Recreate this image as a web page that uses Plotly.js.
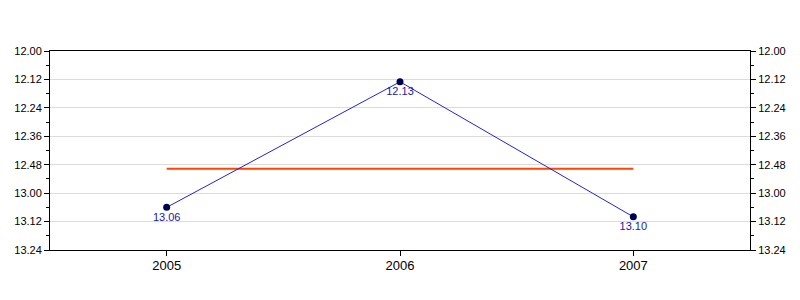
<!DOCTYPE html>
<html>
<head>
<meta charset="utf-8">
<script src="https://cdn.plot.ly/plotly-3.0.1.min.js"></script>
<style>html,body{margin:0;padding:0;background:#fff;}#chart{width:800px;height:300px;}</style>
</head>
<body>
<div id="chart"></div>
<script>
// Years
var years = ['2005', '2006', '2007'];
// Times in seconds (min.sec labels)
var timeSeconds = [786, 733, 790];
var timeLabels = ['13.06', '12.13', '13.10'];
// Average line value (seconds)
var avgSeconds = [769.7, 769.7, 769.7];
// Y tick values (seconds) and labels
var yTickVals = [720, 732, 744, 756, 768, 780, 792, 804];
var yTickText = ['12.00', '12.12', '12.24', '12.36', '12.48', '13.00', '13.12', '13.24'];

var font = {family: 'Liberation Sans, Arial, sans-serif', size: 11, color: '#000'};

var yBase = {
  range: [804, 720],
  tickmode: 'array',
  tickvals: yTickVals,
  ticktext: yTickText,
  ticks: 'outside',
  ticklen: 5,
  tickcolor: '#000',
  showline: true,
  linecolor: '#000',
  linewidth: 1,
  zeroline: false,
  tickfont: font,
  minor: {tickmode: 'linear', tick0: 720, dtick: 6, ticks: 'outside', ticklen: 3, tickcolor: '#000', showgrid: false}
};

var traces = [
  {
    x: years, y: avgSeconds, type: 'scatter', mode: 'lines',
    line: {color: '#ff4500', width: 2}, hoverinfo: 'skip'
  },
  {
    x: years, y: timeSeconds, type: 'scatter', mode: 'lines+markers+text',
    text: timeLabels, textposition: 'bottom center',
    textfont: {family: 'Liberation Sans, Arial, sans-serif', size: 11, color: '#1a1aa0'},
    line: {color: '#2424c8', width: 1},
    marker: {color: '#000050', size: 7, line: {color: '#000050', width: 0}}
  },
  {
    x: years, y: timeSeconds, type: 'scatter', mode: 'markers', yaxis: 'y2',
    marker: {opacity: 0}, hoverinfo: 'skip'
  }
];

var layout = {
  width: 800, height: 300,
  margin: {l: 50, r: 50, t: 51, b: 50},
  paper_bgcolor: '#fff', plot_bgcolor: '#fff',
  showlegend: false,
  xaxis: {
    type: 'category',
    range: [-0.5, 2.5],
    ticks: 'outside', ticklen: 5, tickcolor: '#000',
    ticklabelstandoff: -2,
    showline: true, linecolor: '#000', linewidth: 1, mirror: true,
    showgrid: false, zeroline: false,
    tickfont: {family: 'Liberation Sans, Arial, sans-serif', size: 13, color: '#000'}
  },
  yaxis: Object.assign({}, yBase, {side: 'left', showgrid: true, gridcolor: '#dcdcdc', gridwidth: 1}),
  yaxis2: Object.assign({}, yBase, {side: 'right', overlaying: 'y', showgrid: false})
};

Plotly.newPlot('chart', traces, layout, {displayModeBar: false, staticPlot: true});
</script>
</body>
</html>
